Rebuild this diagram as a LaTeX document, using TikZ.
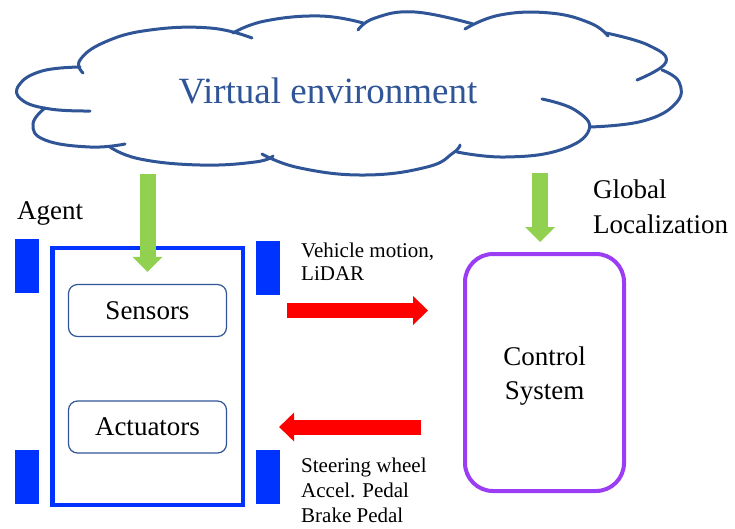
\documentclass[tikz,border=0pt]{standalone}
\usepackage{fontspec}
\setmainfont{Liberation Serif}
\usetikzlibrary{arrows.meta}
\definecolor{cloudblue}{HTML}{2F5597}
\definecolor{agentblue}{HTML}{0033FF}
\definecolor{arrgreen}{HTML}{92D050}
\definecolor{arrred}{HTML}{FF0000}
\definecolor{ctrlpurple}{HTML}{9B3DF5}
\definecolor{boxedge}{HTML}{2F5597}
\begin{document}
\begin{tikzpicture}[x=1pt,y=-1pt,
  cloudline/.style={draw=cloudblue,line width=3pt,line cap=round},
  wheel/.style={fill=agentblue,draw=none,minimum width=24pt,minimum height=54pt,inner sep=0pt},
  agentbox/.style={draw=agentblue,line width=4.5pt,minimum width=190.5pt,minimum height=257pt,inner sep=0pt},
  innerbox/.style={draw=boxedge,line width=1.2pt,rounded corners=9pt,minimum width=158pt,minimum height=52pt,inner sep=0pt,font=\fontsize{27}{33}\selectfont},
  ctrlbox/.style={draw=ctrlpurple,line width=4pt,rounded corners=28pt,minimum width=159pt,minimum height=237pt,inner sep=0pt,align=center,font=\fontsize{27}{34}\selectfont},
  garrow/.style={draw=arrgreen,line width=16pt,-{Triangle[length=15pt,width=30pt,line width=0pt]}},
  rarrow/.style={draw=arrred,line width=15pt,-{Triangle[length=15pt,width=29pt,line width=0pt]}},
  lbl/.style={inner sep=0pt,align=left},
]
\useasboundingbox (0,0) rectangle (735,528);

% cloud outline
\begin{scope}[cloudline]
\draw plot[smooth,tension=0.75] coordinates {(80,67) (42,71) (19,85) (22,100) (50,109) (90,111)};
\draw plot[smooth,tension=0.75] coordinates {(83,73) (80,60) (105,42) (150,30) (210,28) (252,38)};
\draw plot[smooth,tension=0.75] coordinates {(45,108) (33,124) (45,140) (90,147) (125,144)};
\draw plot[smooth,tension=0.75] coordinates {(110,147) (140,159) (200,165) (255,162) (273,156)};
\draw plot[smooth,tension=0.75] coordinates {(262,154) (300,168) (365,175) (427,167) (453,153) (460,145)};
\draw plot[smooth,tension=0.75] coordinates {(457,152) (505,157) (560,150) (589,130) (575,110) (542,99)};
\draw plot[smooth,tension=0.75] coordinates {(590,127) (643,121) (676,103) (679,82) (662,70)};
\draw plot[smooth,tension=0.75] coordinates {(606,33) (648,45) (666,62) (637,80)};
\draw plot[smooth,tension=0.75] coordinates {(465,29) (500,15) (550,13) (590,23) (608,36)};
\draw plot[smooth,tension=0.75] coordinates {(358,30) (375,18) (415,12) (473,24)};
\draw plot[smooth,tension=0.75] coordinates {(233,33) (265,21) (320,16) (363,23)};
\end{scope}
\node[font=\fontsize{37}{44}\selectfont,text=cloudblue,anchor=base,inner sep=0pt] (env) at (328,103) {Virtual environment};
\coordinate (envL) at (147.5,174);
\coordinate (envR) at (540,173);

% agent
\node[anchor=base west,inner sep=0pt,font=\fontsize{27}{33}\selectfont] (agentlbl) at (17,219) {Agent};
\node[agentbox] (agent) at (147.5,376.5) {};
\node[wheel] (wlt) at (27,266) {};
\node[wheel] (wlb) at (27,477) {};
\node[wheel] (wrt) at (267.5,268) {};
\node[wheel] (wrb) at (267.5,477) {};
\node[innerbox] (sensors) at (147.5,310.5) {Sensors};
\node[innerbox] (actuators) at (147.5,427) {Actuators};

% control
\node[ctrlbox] (control) at (544.5,372.5) {\rule{0pt}{26pt}Control\\System};
\node[lbl,anchor=base west,font=\fontsize{27}{35}\selectfont] (gl) at (593,233) {Global\\Localization};

% arrows
\draw[garrow] (envL) -- ([yshift=12pt]sensors.north);
\draw[garrow] (envR) -- ([xshift=-4.5pt,yshift=10pt]control.north);
\path (sensors.east) ++(60,0) coordinate (r1s);
\path (control.west |- sensors.east) ++(-35,0) coordinate (r1e);
\draw[rarrow] (r1s) -- (r1e);
\path (control.west |- actuators.east) ++(-42,0) coordinate (r2s);
\path (actuators.east) ++(52,0) coordinate (r2e);
\draw[rarrow] (r2s) -- (r2e);

\node[lbl,anchor=base west,font=\fontsize{21}{23}\selectfont] (vm) at (301,280) {Vehicle motion,\\LiDAR};
\node[lbl,anchor=base west,font=\fontsize{21}{25}\selectfont] (sw) at (301,522) {Steering wheel\\Accel. Pedal\\Brake Pedal};
\end{tikzpicture}
\end{document}
